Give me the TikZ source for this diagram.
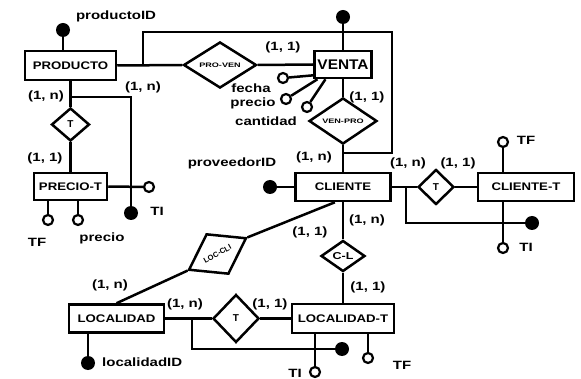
\documentclass[tikz,border=0pt]{standalone}
\usepackage{fontspec}
\setmainfont{Liberation Sans}
\usetikzlibrary{shapes.geometric}
\newcommand{\hstretch}[1]{\scalebox{1.25}[1]{#1}}
\newcommand{\estretch}[1]{\scalebox{1.2}[1]{#1}}
\begin{document}
\begin{tikzpicture}[x=1pt,y=-1pt,
  ent/.style={draw, line width=2.5pt, rectangle, inner sep=0pt, font=\fontsize{11}{13}\selectfont\bfseries},
  rel/.style={draw, line width=2.5pt, diamond, inner sep=0pt, font=\fontsize{10}{12}\selectfont\bfseries},
  relsmall/.style={font=\fontsize{6.5}{8}\selectfont\bfseries},
  conn/.style={line width=2.5pt},
  att/.style={circle, draw, line width=2.2pt, minimum size=10pt, inner sep=0pt, fill=white},
  keyd/.style={circle, fill, minimum size=14pt, inner sep=0pt},
  lbl/.style={font=\fontsize{12}{14}\selectfont\bfseries, inner sep=0pt}]
\useasboundingbox (0,0) rectangle (581,379);

% entities
\node[ent, minimum width=91pt, minimum height=29pt] (PRODUCTO) at (70.5,65.5) {\estretch{PRODUCTO}};
\node[ent, minimum width=57pt, minimum height=27pt, font=\fontsize{14}{16}\selectfont\bfseries] (VENTA) at (343,64.5) {\scalebox{1.1}[1]{VENTA}};
\node[ent, minimum width=73pt, minimum height=27pt] (PRECIOT) at (70.5,186.5) {\estretch{PRECIO-T}};
\node[ent, minimum width=95pt, minimum height=28pt] (CLIENTE) at (343,187) {\estretch{CLIENTE}};
\node[ent, minimum width=96pt, minimum height=28pt] (CLIENTET) at (526,187) {\estretch{CLIENTE-T}};
\node[ent, minimum width=95pt, minimum height=28pt] (LOCALIDAD) at (116.5,318.5) {\estretch{LOCALIDAD}};
\node[ent, minimum width=102pt, minimum height=29pt] (LOCALIDADT) at (343,318.5) {\estretch{LOCALIDAD-T}};

% relationships
\node[rel, relsmall, minimum width=73pt, minimum height=33pt] (PROVEN) at (220,65) {\scalebox{1.4}[1]{PRO-VEN}};
\node[rel, relsmall, minimum width=68pt, minimum height=35pt] (VENPRO) at (343,121) {\scalebox{1.4}[1]{VEN-PRO}};
\node[rel, minimum width=38pt, minimum height=33pt] (T1) at (70.5,124.5) {T};
\node[rel, minimum width=36pt, minimum height=35pt] (T2) at (436,187) {T};
\node[rel, minimum width=44pt, minimum height=31pt] (CL) at (343,256) {\hstretch{C-L}};
\node[rel, minimum width=46pt, minimum height=48pt] (T3) at (236,318.5) {T};
\node[rel, font=\fontsize{7.5}{9}\selectfont\bfseries, rotate=29, minimum width=66pt, minimum height=46pt] (LC) at (217.5,254) {LOC-CLI};

% keys and attributes
\node[keyd] (pid) at (63,30) {};
\node[keyd] (vid) at (343,17) {};
\node[att] (afe) at (283,78) {};
\node[att] (apr) at (286,99) {};
\node[att] (aca) at (307,107) {};
\node[keyd] (tid1) at (131,213) {};
\node[att] (ati1) at (149,187) {};
\node[att] (atf1) at (48,220) {};
\node[att] (app) at (78,220) {};
\node[keyd] (prid) at (270,187) {};
\node[keyd] (kd2) at (532,223) {};
\node[att] (atf2) at (503,142) {};
\node[att] (ati2) at (503,248) {};
\node[keyd] (lid) at (88,363) {};
\node[keyd] (kd3) at (342,349) {};
\node[att] (ati3) at (315,372) {};
\node[att] (atf3) at (368,358) {};

% junction coordinates
\coordinate (b1) at (143,65);
\coordinate (tr) at (392,32);
\coordinate (j1) at (343,153);
\coordinate (b2) at (70.5,97);
\coordinate (b3) at (406,187);
\coordinate (b4) at (192,318.5);

% connectors
\draw[conn] (pid) -- (pid |- PRODUCTO.north);
\draw[conn] (PRODUCTO.east) -- (PROVEN.west);
\draw[conn] (b1) |- (tr) |- (j1);
\draw[conn] (PROVEN.east) -- (VENTA.west);
\draw[conn] (vid) -- (VENTA.north);
\draw[conn] (VENTA.south) -- (VENPRO.north);
\draw[conn] (VENPRO.south) -- (CLIENTE.north);
\draw[conn] (afe) -- (VENTA.200);
\draw[conn] (apr) -- (VENTA.210);
\draw[conn] (aca) -- (VENTA.220);

\draw[conn] (PRODUCTO.south) -- (T1.north);
\draw[conn] (T1.south) -- (PRECIOT.north);
\draw[conn] (b2) -| (tid1);
\draw[conn] (PRECIOT.east) -- (ati1);
\draw[conn] (atf1) -- (atf1 |- PRECIOT.south);
\draw[conn] (app) -- (app |- PRECIOT.south);

\draw[conn] (prid) -- (CLIENTE.west);
\draw[conn] (CLIENTE.east) -- (T2.west);
\draw[conn] (T2.east) -- (CLIENTET.west);
\draw[conn] (b3) |- (kd2);
\draw[conn] (atf2) -- (atf2 |- CLIENTET.north);
\draw[conn] (ati2) -- (ati2 |- CLIENTET.south);

\draw[conn] (CLIENTE.south) -- (CL.north);
\draw[conn] (CL.south) -- (LOCALIDADT.north);
\draw[conn] (CLIENTE.242) -- (LC.east);
\draw[conn] (LC.west) -- (LOCALIDAD.north);

\draw[conn] (lid) -- (lid |- LOCALIDAD.south);
\draw[conn] (LOCALIDAD.east) -- (T3.west);
\draw[conn] (T3.east) -- (LOCALIDADT.west);
\draw[conn] (b4) |- (kd3);
\draw[conn] (ati3) -- (ati3 |- LOCALIDADT.south);
\draw[conn] (atf3) -- (atf3 |- LOCALIDADT.south);

% labels
\node[lbl] (lpid) at (116,16) {\hstretch{productoID}};
\node[lbl] (c1) at (46,96) {\hstretch{(1, n)}};
\node[lbl] (c2) at (143,87) {\hstretch{(1, n)}};
\node[lbl] (c3) at (283,47) {\hstretch{(1, 1)}};
\node[lbl] (c4) at (367,97) {\hstretch{(1, 1)}};
\node[lbl] (lfe) at (251,88) {\hstretch{fecha}};
\node[lbl] (lpr) at (253,103) {\hstretch{precio}};
\node[lbl] (lca) at (266,121) {\hstretch{cantidad}};
\node[lbl] (c5) at (45,158) {\hstretch{(1, 1)}};
\node[lbl] (lti1) at (157,211) {\hstretch{TI}};
\node[lbl] (ltf1) at (37,242) {\hstretch{TF}};
\node[lbl] (lpp) at (102,238) {\hstretch{precio}};
\node[lbl] (lprid) at (232,163) {\hstretch{proveedorID}};
\node[lbl] (c6) at (314,157) {\hstretch{(1, n)}};
\node[lbl] (c7) at (408,163) {\hstretch{(1, n)}};
\node[lbl] (c8) at (458,163) {\hstretch{(1, 1)}};
\node[lbl] (ltf2) at (526,140) {\hstretch{TF}};
\node[lbl] (lti2) at (526,247) {\hstretch{TI}};
\node[lbl] (c9) at (367,220) {\hstretch{(1, n)}};
\node[lbl] (c10) at (310,232) {\hstretch{(1, 1)}};
\node[lbl] (c11) at (368,287) {\hstretch{(1, 1)}};
\node[lbl] (c12) at (110,285) {\hstretch{(1, n)}};
\node[lbl] (c13) at (185,304) {\hstretch{(1, n)}};
\node[lbl] (c14) at (270,304) {\hstretch{(1, 1)}};
\node[lbl, anchor=west] (llid) at (102,362) {\hstretch{localidadID}};
\node[lbl] (lti3) at (295,373) {\hstretch{TI}};
\node[lbl] (ltf3) at (402,365) {\hstretch{TF}};
\end{tikzpicture}
\end{document}
